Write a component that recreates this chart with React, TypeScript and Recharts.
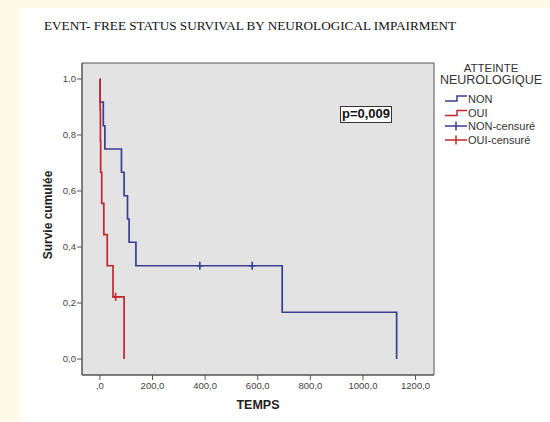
import { ComposedChart, Legend, Line, ReferenceArea, Scatter, XAxis, YAxis } from "recharts";

// Kaplan-Meier steps
const nonTimes = [0, 1, 13, 19, 82, 92, 105, 111, 137, 693, 1128];
const nonSurvival = [1, 0.917, 0.833, 0.75, 0.667, 0.583, 0.5, 0.417, 0.333, 0.167, 0];
const ouiTimes = [0, 1, 2, 3, 7, 15, 28, 50, 92];
const ouiSurvival = [1, 0.889, 0.778, 0.667, 0.556, 0.444, 0.333, 0.222, 0];

const nonCensoredTimes = [380, 579];
const nonCensoredSurvival = [0.333, 0.333];
const ouiCensoredTimes = [60];
const ouiCensoredSurvival = [0.222];

const xTicks = [0, 200, 400, 600, 800, 1000, 1200];
const yTicks = [0, 0.2, 0.4, 0.6, 0.8, 1];

const BLUE = "#3a3d93";
const RED = "#c1272d";
const AXIS = "#555";
const SANS = "'Liberation Sans', Arial, sans-serif";

const toPoints = (times: number[], surv: number[]) => times.map((t, i) => ({ t, s: surv[i] }));

const nonData = toPoints(nonTimes, nonSurvival);
const ouiData = toPoints(ouiTimes, ouiSurvival);
const nonCensored = toPoints(nonCensoredTimes, nonCensoredSurvival);
const ouiCensored = toPoints(ouiCensoredTimes, ouiCensoredSurvival);

const fmtX = (v: number) => (v === 0 ? ",0" : v.toFixed(1).replace(".", ","));
const fmtY = (v: number) => v.toFixed(1).replace(".", ",");

function plus(color: string) {
  return (props: any) => {
    const { cx, cy } = props;
    return (
      <path
        d={`M${cx - 3.5},${cy}H${cx + 3.5}M${cx},${cy - 4}V${cy + 4}`}
        stroke={color}
        strokeWidth={1.6}
        fill="none"
      />
    );
  };
}

function LegendBox() {
  const rows = [
    { label: "NON", color: BLUE, kind: "step", y: 43.5 },
    { label: "OUI", color: RED, kind: "step", y: 58 },
    { label: "NON-censuré", color: BLUE, kind: "cross", y: 71 },
    { label: "OUI-censuré", color: RED, kind: "cross", y: 85 },
  ];
  return (
    <svg width={115} height={95} style={{ display: "block" }}>
      <text x={56} y={17} textAnchor="middle" fontFamily={SANS} fontSize={11.5} fill="#333">
        ATTEINTE
      </text>
      <text x={56} y={28.5} textAnchor="middle" fontFamily={SANS} fontSize={12.5} fill="#333">
        NEUROLOGIQUE
      </text>
      {rows.map((r) => (
        <g key={r.label}>
          {r.kind === "step" ? (
            <path d={`M10,${r.y + 2.5}H22V${r.y - 2.5}H32`} stroke={r.color} strokeWidth={1.5} fill="none" />
          ) : (
            <path d={`M10,${r.y}H32M21,${r.y - 4.5}V${r.y + 4.5}`} stroke={r.color} strokeWidth={1.5} fill="none" />
          )}
          <text x={33} y={r.y + 4} fontFamily={SANS} fontSize={11} fill="#333">
            {r.label}
          </text>
        </g>
      ))}
    </svg>
  );
}

export default function App() {
  return (
    <div style={{ position: "fixed", left: 0, top: 0, width: 550, height: 422, background: "#fffbe8", overflow: "hidden" }}>
      <div style={{ position: "absolute", left: 20, top: 8, width: 530, height: 414, background: "#fff" }} />
      <div
        style={{
          position: "absolute",
          left: 44,
          top: 19,
          fontFamily: "'Liberation Serif', 'Times New Roman', serif",
          fontSize: 13.2,
          lineHeight: "13px",
          color: "#111",
          whiteSpace: "nowrap",
        }}
      >
        EVENT- FREE STATUS SURVIVAL BY NEUROLOGICAL IMPAIRMENT
      </div>
      <div style={{ position: "absolute", left: 0, top: 0 }}>
        <ComposedChart width={550} height={422} margin={{ top: 63, right: 116, bottom: 0, left: 42 }}>
          <XAxis
            type="number"
            dataKey="t"
            domain={[-68, 1270]}
            ticks={xTicks}
            tickFormatter={fmtX}
            height={47}
            tickSize={5}
            tickMargin={2}
            stroke={AXIS}
            tick={{ fill: "#444", fontSize: 9.5, fontFamily: SANS }}
            label={{
              content: ({ viewBox }: any) => (
                <text
                  x={viewBox.x + viewBox.width / 2}
                  y={viewBox.y + 34}
                  textAnchor="middle"
                  fontFamily={SANS}
                  fontWeight="bold"
                  fontSize={12.5}
                  fill="#222"
                >
                  TEMPS
                </text>
              ),
            }}
          />
          <YAxis
            type="number"
            dataKey="s"
            domain={[-0.057, 1.057]}
            ticks={yTicks}
            tickFormatter={fmtY}
            width={40}
            tickSize={5}
            tickMargin={1}
            stroke={AXIS}
            tick={{ fill: "#444", fontSize: 9.5, fontFamily: SANS }}
            label={{
              content: ({ viewBox }: any) => {
                const x = viewBox.x + 6;
                const y = viewBox.y + viewBox.height / 2 - 4;
                return (
                  <text
                    x={x}
                    y={y}
                    transform={`rotate(-90 ${x} ${y})`}
                    textAnchor="middle"
                    dominantBaseline="central"
                    fontFamily={SANS}
                    fontWeight="bold"
                    fontSize={12}
                    fill="#222"
                  >
                    Survie cumulée
                  </text>
                );
              },
            }}
          />
          <ReferenceArea x1={-68} x2={1270} y1={-0.057} y2={1.057} fill="#e3e3e3" fillOpacity={1} stroke={AXIS} strokeWidth={1} />
          <Line data={nonData} dataKey="s" type="stepAfter" stroke={BLUE} strokeWidth={1.7} dot={false} isAnimationActive={false} />
          <Line data={ouiData} dataKey="s" type="stepAfter" stroke={RED} strokeWidth={1.7} dot={false} isAnimationActive={false} />
          <Scatter data={nonCensored} dataKey="s" shape={plus(BLUE)} isAnimationActive={false} />
          <Scatter data={ouiCensored} dataKey="s" shape={plus(RED)} isAnimationActive={false} />
          <Legend
            layout="vertical"
            align="center"
            verticalAlign="middle"
            wrapperStyle={{ left: 435, top: 55, width: 115 }}
            content={() => <LegendBox />}
          />
        </ComposedChart>
      </div>
      <div
        style={{
          position: "absolute",
          left: 340,
          top: 106,
          width: 52,
          height: 17,
          boxSizing: "border-box",
          border: "1.5px solid #333",
          background: "#fff",
          fontFamily: SANS,
          fontWeight: "bold",
          fontSize: 13,
          lineHeight: "14px",
          color: "#111",
          textAlign: "center",
          whiteSpace: "nowrap",
        }}
      >
        p=0,009
      </div>
    </div>
  );
}
